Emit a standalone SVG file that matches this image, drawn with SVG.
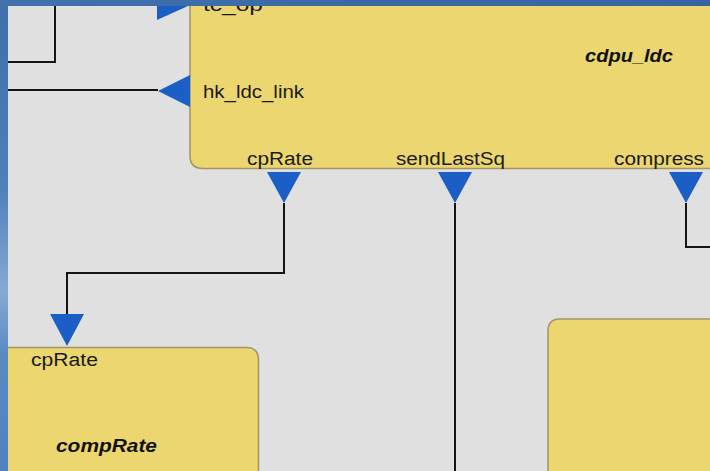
<svg xmlns="http://www.w3.org/2000/svg" width="710" height="471" viewBox="0 0 710 471">
<defs>
<linearGradient id="lg" x1="0" y1="0" x2="0" y2="1">
<stop offset="0" stop-color="#3f6fab"/>
<stop offset="0.4" stop-color="#4f80bb"/>
<stop offset="0.62" stop-color="#86aad4"/>
<stop offset="0.75" stop-color="#5a8ac3"/>
<stop offset="1" stop-color="#4e83c0"/>
</linearGradient>
<linearGradient id="tg" x1="0" y1="0" x2="1" y2="0">
<stop offset="0" stop-color="#4272ad"/>
<stop offset="0.5" stop-color="#3a6aa6"/>
<stop offset="1" stop-color="#3566a3"/>
</linearGradient>
<style>
.box{fill:#ecd66f;stroke:#a39466;stroke-width:1.5}
.port{fill:#1b5fc6}
.wire{fill:none;stroke:#151515;stroke-width:2}
.lbl{font-family:"Liberation Sans",Arial,sans-serif;font-size:18px;fill:#1a1a1a}
.name{font-family:"Liberation Sans",Arial,sans-serif;font-size:18px;font-weight:bold;font-style:italic;fill:#111}
</style>
</defs>
<rect x="0" y="0" width="710" height="471" fill="#e0e0e0"/>
<g id="cdpu_ldc">
<path class="box" d="M190,-10 V156 Q190,168.5 203,168.5 H720 V-10 Z"/>
<text class="lbl" x="203" y="11" textLength="60" lengthAdjust="spacingAndGlyphs">tc_op</text>
<text class="lbl" x="203" y="98" textLength="101" lengthAdjust="spacingAndGlyphs">hk_ldc_link</text>
<text class="name" x="585" y="62" textLength="88" lengthAdjust="spacingAndGlyphs">cdpu_ldc</text>
<text class="lbl" x="247" y="165" textLength="66" lengthAdjust="spacingAndGlyphs">cpRate</text>
<text class="lbl" x="396" y="165" textLength="109" lengthAdjust="spacingAndGlyphs">sendLastSq</text>
<text class="lbl" x="614" y="165" textLength="90" lengthAdjust="spacingAndGlyphs">compress</text>
<polygon class="port" points="157,6 157,20 188,6"/>
<polygon class="port" points="158,91 190,75 190,107"/>
<polygon class="port" points="267,172 301,172 284,203"/>
<polygon class="port" points="438,172 472,172 455,203"/>
<polygon class="port" points="669,172 703,172 686,203"/>
</g>
<g id="compRate">
<path class="box" d="M-10,347.5 H246 Q258.5,347.5 258.5,360 V480 H-10 Z"/>
<text class="lbl" x="31" y="366" textLength="67" lengthAdjust="spacingAndGlyphs">cpRate</text>
<text class="name" x="56" y="452" textLength="101" lengthAdjust="spacingAndGlyphs">compRate</text>
<polygon class="port" points="50,314 84,314 67,346"/>
</g>
<g id="node3">
<path class="box" d="M548,480 V331 Q548,319 560,319 H720 V480 Z"/>
</g>
<g id="connectors">
<path class="wire" d="M8,62 H55 V0"/>
<path class="wire" d="M8,90 H158"/>
<path class="wire" d="M284,203 V273 H67 V314"/>
<path class="wire" d="M455,203 V471"/>
<path class="wire" d="M686,203 V247 H710"/>
</g>
<rect x="0" y="0" width="8" height="471" fill="url(#lg)"/>
<rect x="0" y="0" width="710" height="6" fill="url(#tg)"/>
</svg>
